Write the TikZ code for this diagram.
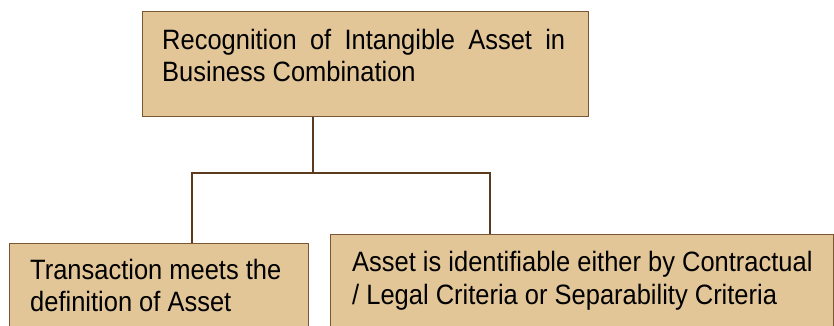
\documentclass[tikz,border=0pt]{standalone}
\usepackage{fontspec}
\setmainfont{Liberation Sans}[FakeStretch=0.91]
\usepackage{tikz}

\definecolor{boxfill}{RGB}{226,198,152}
\definecolor{boxline}{RGB}{122,86,52}
\definecolor{linkline}{RGB}{92,58,30}

\begin{document}
\begin{tikzpicture}[x=1pt, y=-1pt,
        box/.style={draw=boxline, fill=boxfill, line width=1.3pt, inner sep=0pt, anchor=north west},
        boxtext/.style={inner sep=0pt, anchor=north west, font=\fontsize{28}{32.5}\selectfont},
        link/.style={draw=linkline, line width=2pt}]

        \useasboundingbox (0,0) rectangle (834,326);
        \clip (0,0) rectangle (834,326);

        \node[box, minimum width=446pt, minimum height=105pt]
            (topbox) at (142,11) {};
        \node[box, minimum width=299pt, minimum height=110pt]
            (leftbox) at (9,243) {};
        \node[box, minimum width=503pt, minimum height=110pt]
            (rightbox) at (330,234) {};

        \node[boxtext, text width=403pt, align=justify]
            (toptext) at (162,29) {Recognition of Intangible Asset in Business Combination};
        \node[boxtext, align=left]
            (lefttext) at (30,259) {Transaction meets the\\definition of Asset};
        \node[boxtext, align=left]
            (righttext) at (352,251.5) {Asset is identifiable either by Contractual\\/ Legal Criteria or Separability Criteria};

        \coordinate (split) at (313,173);
        \coordinate (leftknee) at (192,173);
        \coordinate (rightknee) at (490,173);

        \draw[link]
            (split |- topbox.south) -- (split);

        \draw[link]
            (leftbox.north -| leftknee) -- (leftknee) -- (rightknee) -- (rightbox.north -| rightknee);

\end{tikzpicture}
\end{document}
